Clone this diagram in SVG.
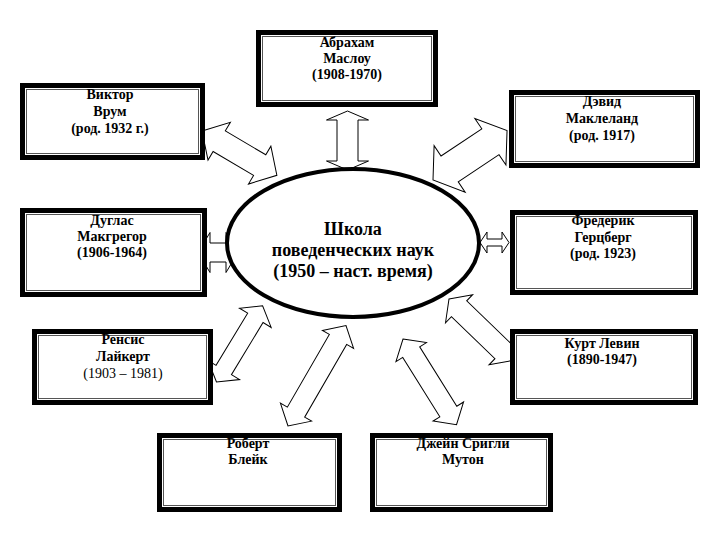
<svg xmlns="http://www.w3.org/2000/svg" width="720" height="540" viewBox="0 0 720 540">
<style>
.bg{fill:#fff}
.arr{fill:#fff;stroke:#000;stroke-width:1;stroke-linejoin:miter}
.box{fill:#fff;stroke:#000;stroke-width:5}
.inner{fill:none;stroke:#555;stroke-width:1}
.t{font-family:"Liberation Serif","Times New Roman",serif;font-size:14px;font-weight:bold;text-anchor:middle;fill:#000}
.r{font-weight:normal}
.c{font-family:"Liberation Serif","Times New Roman",serif;font-size:18px;font-weight:bold;text-anchor:middle;fill:#000}
.ell{fill:#fff;stroke:#000;stroke-width:4}
</style>
<rect class="bg" x="0" y="0" width="720" height="540"/>
<g id="connectors">
<polygon class="arr" transform="translate(347.5,111) rotate(90)" points="0,0 9,-21 9,-10.5 50,-10.5 50,-21 59,0 50,21 50,10.5 9,10.5 9,21"/>
<polygon class="arr" transform="translate(202,131) rotate(30.6)" points="0,0 20,-22 20,-12 67,-12 67,-22 87,0 67,22 67,12 20,12 20,22"/>
<polygon class="arr" transform="translate(433,180) rotate(-33.7)" points="0,0 20,-28 20,-15.5 69,-15.5 69,-28 89,0 69,28 69,15.5 20,15.5 20,28"/>
<polygon class="arr" transform="translate(198,252.5)" points="0,0 12,-20 12,-9.5 28,-9.5 28,-20 40,0 28,20 28,9.5 12,9.5 12,20"/>
<polygon class="arr" transform="translate(480,242.5)" points="0,0 7,-10.5 7,-3.5 22,-3.5 22,-10.5 29,0 22,10.5 22,3.5 7,3.5 7,10.5"/>
<polygon class="arr" transform="translate(216.5,382) rotate(-58.8)" points="0,0 14,-18.5 14,-9 75,-9 75,-18.5 89,0 75,18.5 75,9 14,9 14,18.5"/>
<polygon class="arr" transform="translate(449,299) rotate(44)" points="0,0 14,-19.5 14,-11 74.5,-11 74.5,-19.5 88.5,0 74.5,19.5 74.5,11 14,11 14,19.5"/>
<polygon class="arr" transform="translate(288,426) rotate(-60)" points="0,0 16,-18 16,-10 100,-10 100,-18 116,0 100,18 100,10 16,10 16,18"/>
<polygon class="arr" transform="translate(403,339) rotate(58)" points="0,0 15.5,-18 15.5,-10 85.5,-10 85.5,-18 101,0 85.5,18 85.5,10 15.5,10 15.5,18"/>
</g>
<g id="center">
<ellipse class="ell" cx="353" cy="243" rx="126" ry="74"/>
<text class="c" x="353" y="235">Школа</text>
<text class="c" x="353" y="256">поведенческих наук</text>
<text class="c" x="353" y="277">(1950 – наст. время)</text>
</g>
<g id="maslow">
<rect class="box" x="258.5" y="32.5" width="177" height="72"/>
<rect class="inner" x="262.5" y="36.5" width="169" height="64"/>
<text class="t" x="347" y="47">Абрахам</text>
<text class="t" x="347" y="63">Маслоу</text>
<text class="t" x="347" y="79">(1908-1970)</text>
</g>
<g id="vroom">
<rect class="box" x="22.5" y="85.5" width="180" height="72"/>
<rect class="inner" x="26.5" y="89.5" width="172" height="64"/>
<text class="t" x="110" y="99">Виктор</text>
<text class="t" x="110" y="116">Врум</text>
<text class="t" x="110" y="133">(род. 1932 г.)</text>
</g>
<g id="mcclelland">
<rect class="box" x="511.5" y="92.5" width="186" height="73"/>
<rect class="inner" x="515.5" y="96.5" width="178" height="65"/>
<text class="t" x="602" y="106">Дэвид</text>
<text class="t" x="602" y="123">Маклеланд</text>
<text class="t" x="602" y="140">(род. 1917)</text>
</g>
<g id="mcgregor">
<rect class="box" x="22.5" y="210.5" width="182" height="84"/>
<rect class="inner" x="26.5" y="214.5" width="174" height="76"/>
<text class="t" x="112" y="225">Дуглас</text>
<text class="t" x="112" y="241">Макгрегор</text>
<text class="t" x="112" y="257">(1906-1964)</text>
</g>
<g id="herzberg">
<rect class="box" x="512.5" y="212.5" width="183" height="80"/>
<rect class="inner" x="516.5" y="216.5" width="175" height="72"/>
<text class="t" x="603" y="225">Фредерик</text>
<text class="t" x="603" y="242">Герцберг</text>
<text class="t" x="603" y="258">(род. 1923)</text>
</g>
<g id="likert">
<rect class="box" x="34.5" y="331.5" width="176" height="71"/>
<rect class="inner" x="38.5" y="335.5" width="168" height="63"/>
<text class="t" x="123" y="344">Ренсис</text>
<text class="t" x="123" y="361">Лайкерт</text>
<text class="t r" x="123" y="378">(1903 – 1981)</text>
</g>
<g id="lewin">
<rect class="box" x="512.5" y="331.5" width="183" height="71"/>
<rect class="inner" x="516.5" y="335.5" width="175" height="63"/>
<text class="t" x="602" y="348">Курт Левин</text>
<text class="t" x="602" y="364">(1890-1947)</text>
</g>
<g id="blake">
<rect class="box" x="159.5" y="435.5" width="180" height="74"/>
<rect class="inner" x="163.5" y="439.5" width="172" height="66"/>
<text class="t" x="248" y="448">Роберт</text>
<text class="t" x="248" y="464">Блейк</text>
</g>
<g id="mouton">
<rect class="box" x="372.5" y="435.5" width="178" height="74"/>
<rect class="inner" x="376.5" y="439.5" width="170" height="66"/>
<text class="t" x="463" y="448">Джейн Сригли</text>
<text class="t" x="463" y="464">Мутон</text>
</g>
</svg>
